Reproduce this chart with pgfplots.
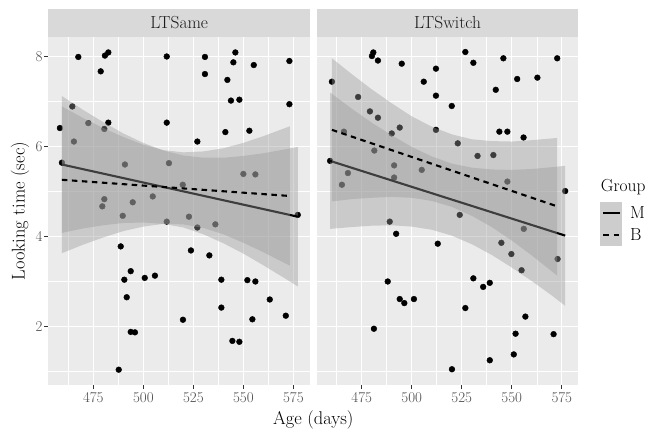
\documentclass[border=0pt]{standalone}
\usepackage{fontspec}
\usepackage{pgfplots}
\pgfplotsset{compat=1.18}

\definecolor{panelbg}{HTML}{EBEBEB}
\definecolor{stripbg}{HTML}{D9D9D9}
\definecolor{ticktext}{HTML}{4D4D4D}
\definecolor{tickmark}{HTML}{333333}
\definecolor{bandfill}{HTML}{999999}
\definecolor{striptext}{HTML}{1A1A1A}
\definecolor{keybg}{HTML}{CDCDCD}

\pgfplotsset{
  facet/.style={
    anchor=south west, scale only axis,
    width=261.7bp, height=348.3bp,
    xmin=452.5, xmax=583.3, ymin=0.7, ymax=8.44,
    axis background/.style={fill=panelbg},
    axis line style={draw=none},
    xtick={475,500,525,550,575},
    ytick={2,4,6,8},
    minor xtick={462.5,487.5,512.5,537.5,562.5},
    minor ytick={1,3,5,7},
    grid=both,
    major grid style={white, line width=1.1bp},
    minor grid style={white, line width=0.55bp},
    tick align=outside,
    xtick pos=left, ytick pos=left,
    major tick length=4bp, minor tick length=0pt,
    tick style={tickmark, line width=1bp},
    tick label style={font=\fontsize{15}{18}\selectfont, text=ticktext, inner sep=0pt},
    /pgf/number format/assume math mode=true,
    xticklabel shift=3.5bp, yticklabel shift=1.5bp,
    clip=true, clip marker paths=true,
  },
  pts/.style={only marks, mark=*, mark size=2.9bp, black},
  band/.style={draw=none, fill=bandfill, fill opacity=0.4},
  mline/.style={black, line width=2.1bp},
  bline/.style={black, line width=2.1bp, dash pattern=on 5.5bp off 4.5bp},
}

\begin{document}
\begin{tikzpicture}
\path[use as bounding box] (0bp,0bp) rectangle (651bp,429bp);

% ---- LTSame ----
\begin{axis}[facet, at={(48.3bp,44bp)}]
\addplot[pts] coordinates {
(458.3,6.41) (467.5,7.99) (478.7,7.67) (480.8,8.02) (482.5,8.09) (482.5,6.53)
(511.7,8.00) (511.7,6.53) (530.8,7.99) (530.8,7.61) (527.0,6.11) (542.0,7.48)
(545.0,7.87) (546.0,8.09) (543.8,7.02) (548.0,7.04) (541.0,6.32) (553.0,6.35)
(555.2,7.81) (573.0,7.90) (573.0,6.94)
(459.3,5.64) (464.5,6.89) (465.3,6.11) (472.5,6.52) (480.5,6.39) (490.8,5.60)
(512.8,5.63) (519.7,5.15) (550.0,5.39) (556.0,5.38) (504.7,4.89) (494.7,4.76)
(480.5,4.83) (479.5,4.67) (489.7,4.46) (511.7,4.33) (522.8,4.44) (527.0,4.20)
(536.0,4.27) (577.2,4.48)
(488.7,3.78) (490.5,3.04) (493.7,3.23) (491.7,2.65) (493.7,1.88) (495.8,1.87)
(487.7,1.04) (500.7,3.08) (505.8,3.13) (523.8,3.69) (533.0,3.58) (519.8,2.15)
(539.0,3.04) (539.0,2.42) (552.0,3.03) (556.0,3.00) (554.5,2.16) (563.2,2.60)
(571.2,2.24) (544.5,1.68) (548.0,1.66)
};
% M band and line
\addplot[band] coordinates {
(459.3,7.12) (470,6.81) (480,6.54) (490,6.29) (500,6.08) (510,5.91) (520,5.80)
(530,5.75) (540,5.75) (550,5.79) (560,5.85) (570,5.93) (577.2,5.99)
(577.2,2.89) (570,3.09) (560,3.36) (550,3.62) (540,3.85) (530,4.05) (520,4.20)
(510,4.28) (500,4.31) (490,4.30) (480,4.25) (470,4.18) (459.3,4.08)
};
\addplot[mline] coordinates {(459.3,5.60) (577.2,4.44)};
% B band and line
\addplot[band] coordinates {
(459.3,6.89) (470,6.63) (480,6.41) (490,6.21) (500,6.04) (510,5.92) (520,5.87)
(530,5.89) (540,5.96) (550,6.08) (560,6.23) (573.3,6.45)
(573.3,3.35) (560,3.65) (550,3.86) (540,4.05) (530,4.19) (520,4.27) (510,4.28)
(500,4.22) (490,4.12) (480,3.98) (470,3.82) (459.3,3.63)
};
\addplot[bline] coordinates {(459.3,5.26) (573.3,4.90)};
\end{axis}

% ---- LTSwitch ----
\begin{axis}[facet, at={(316.7bp,44bp)}, yticklabels={}, ytick style={draw=none}]
\addplot[pts] coordinates {
(460.1,7.44) (473.2,7.10) (479.1,6.78) (483.1,6.64) (480.1,8.01) (480.8,8.09)
(483.1,7.91) (495.0,7.84) (506.0,7.44) (512.1,7.73) (512.1,7.13) (520.0,6.90)
(526.8,8.10) (530.8,7.86) (542.0,7.26) (545.8,7.96) (552.7,7.50) (562.8,7.53)
(572.7,7.96) (543.8,6.33) (547.8,6.33) (555.9,6.20) (576.7,5.01)
(466.1,6.33) (459.2,5.68) (481.3,5.91) (490.0,6.29) (494.0,6.42) (512.1,6.37)
(523.0,6.07) (532.9,5.79) (540.8,5.81) (468.1,5.41) (465.1,5.15) (491.2,5.58)
(491.2,5.31) (505.0,5.48) (547.8,5.22)
(489.0,4.33) (492.2,4.06) (513.0,3.84) (524.0,4.48) (556.0,4.17) (544.8,3.86)
(549.8,3.61) (554.9,3.25) (572.9,3.50)
(488.0,3.00) (494.0,2.61) (496.3,2.52) (501.1,2.61) (530.8,3.07) (535.7,2.88)
(539.0,2.97) (526.8,2.41) (556.8,2.22) (481.1,1.95) (551.9,1.84) (570.9,1.83)
(551.0,1.38) (539.0,1.25) (520.1,1.05)
};
% M band and line
\addplot[band] coordinates {
(459.2,7.20) (470,6.84) (480,6.53) (490,6.25) (500,5.99) (510,5.78) (520,5.62)
(530,5.53) (540,5.49) (550,5.48) (560,5.50) (570,5.54) (576.7,5.57)
(576.7,2.46) (570,2.69) (560,3.01) (550,3.31) (540,3.59) (530,3.83) (520,4.02)
(510,4.15) (500,4.22) (490,4.25) (480,4.24) (470,4.21) (459.2,4.17)
};
\addplot[mline] coordinates {(459.2,5.68) (576.7,4.02)};
% B band and line
\addplot[band] coordinates {
(460.1,7.96) (470,7.61) (480,7.27) (490,6.96) (500,6.67) (510,6.44) (520,6.27)
(530,6.16) (540,6.12) (550,6.11) (560,6.14) (572.7,6.19)
(572.7,3.13) (560,3.58) (550,3.91) (540,4.21) (530,4.46) (520,4.66) (510,4.79)
(500,4.86) (490,4.88) (480,4.86) (470,4.83) (460.1,4.78)
};
\addplot[bline] coordinates {(460.1,6.37) (572.7,4.67)};
\end{axis}

% strips
\fill[stripbg] (48.3bp,392.3bp) rectangle (310bp,420bp);
\fill[stripbg] (316.7bp,392.3bp) rectangle (578.3bp,420bp);
\node[font=\fontsize{17.5}{20}\selectfont, text=striptext] at (179.15bp,406.15bp) {LTSame};
\node[font=\fontsize{17.5}{20}\selectfont, text=striptext] at (447.5bp,406.15bp) {LTSwitch};

% axis titles
\node[anchor=base, font=\fontsize{18.5}{22}\selectfont] at (313.3bp,4.5bp) {Age (days)};
\node[rotate=90, font=\fontsize{18.5}{22}\selectfont] at (20bp,218bp) {Looking time (sec)};

% legend
\node[anchor=base west, inner sep=0pt, font=\fontsize{17.5}{20}\selectfont] at (600.7bp,237bp) {Group};
\fill[keybg] (600bp,183.3bp) rectangle (622.3bp,227.3bp);
\draw[black, line width=2.1bp] (603bp,216bp) -- (619.5bp,216bp);
\draw[black, line width=2.1bp, dash pattern=on 5.5bp off 5bp] (603bp,194bp) -- (620bp,194bp);
\node[anchor=west, inner sep=0pt, font=\fontsize{17.5}{20}\selectfont] at (630bp,216bp) {M};
\node[anchor=west, inner sep=0pt, font=\fontsize{17.5}{20}\selectfont] at (630bp,194bp) {B};
\end{tikzpicture}
\end{document}
